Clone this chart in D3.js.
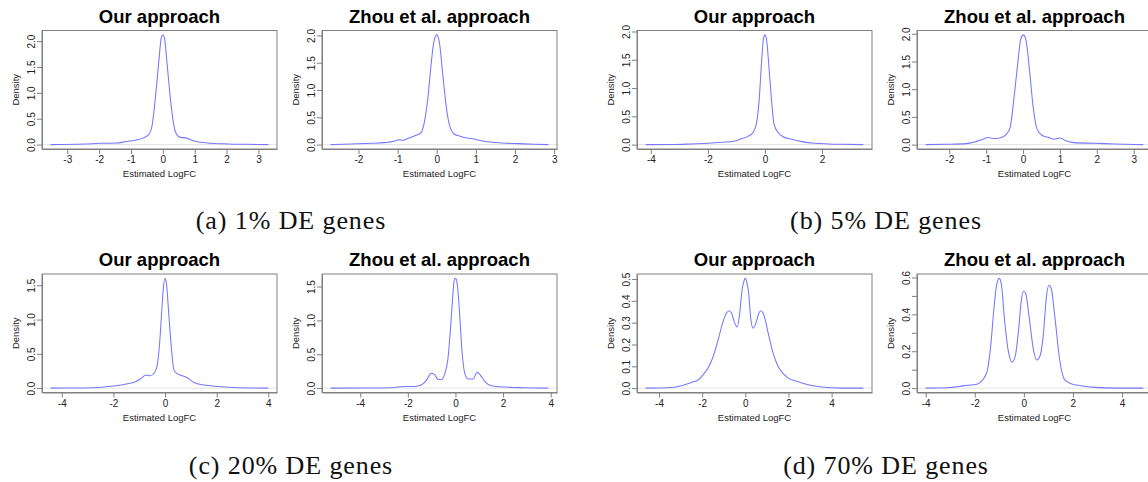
<!DOCTYPE html>
<html>
<head>
<meta charset="utf-8">
<script src="https://cdn.jsdelivr.net/npm/d3@7"></script>
<style>
  html, body { margin: 0; padding: 0; background: #fff; }
  svg { display: block; }
</style>
</head>
<body>
<svg id="fig" width="1148" height="482"></svg>
<script>
// Kernel density estimates of the estimated log fold changes (x = LogFC, y = density)
const our01X  = [-3.52,-2.46,-1.98,-1.46,-1.14,-0.82,-0.45,-0.34,-0.24,-0.13,-0.05,0,0.05,0.13,0.24,0.34,0.45,0.56,0.71,0.98,1.4,2.04,2.67,3.31];
const our01Y  = [0,0.01,0.025,0.03,0.06,0.09,0.19,0.36,0.87,1.58,2.06,2.12,2.06,1.58,0.87,0.39,0.18,0.14,0.13,0.07,0.032,0.013,0.006,0];
const zhou01X = [-2.71,-2.2,-1.68,-1.34,-1.09,-0.96,-0.87,-0.74,-0.53,-0.4,-0.32,-0.23,-0.15,-0.08,0,0.07,0.15,0.24,0.32,0.45,0.58,0.71,0.97,1.22,1.65,2.08,2.5,2.85];
const zhou01Y = [0,0.012,0.024,0.036,0.06,0.09,0.08,0.11,0.17,0.22,0.4,0.83,1.43,1.86,2.01,1.86,1.31,0.71,0.37,0.19,0.16,0.13,0.1,0.06,0.03,0.018,0.006,0];

const our05X  = [-4.18,-3.16,-2.57,-1.99,-1.52,-1.05,-0.82,-0.58,-0.41,-0.29,-0.2,-0.12,-0.05,0,0.06,0.14,0.23,0.32,0.47,0.64,0.94,1.29,1.75,2.22,2.69,3.45];
const our05Y  = [0,0.002,0.012,0.023,0.04,0.065,0.105,0.15,0.22,0.39,0.8,1.44,1.88,1.94,1.85,1.38,0.8,0.36,0.21,0.14,0.094,0.053,0.023,0.012,0.006,0];
const zhou05X = [-2.64,-2.09,-1.54,-1.31,-1.13,-0.95,-0.81,-0.63,-0.45,-0.35,-0.25,-0.15,-0.06,0.01,0.08,0.18,0.27,0.38,0.51,0.7,0.84,1.0,1.15,1.38,1.93,2.48,3.26];
const zhou05Y = [0,0.006,0.018,0.048,0.085,0.127,0.11,0.12,0.19,0.31,0.82,1.43,1.91,1.98,1.88,1.31,0.7,0.28,0.17,0.127,0.097,0.12,0.073,0.036,0.024,0.012,0];

const our20X  = [-4.43,-3.19,-2.54,-2.01,-1.5,-1.1,-0.9,-0.75,-0.58,-0.42,-0.31,-0.22,-0.14,-0.08,-0.01,0.05,0.14,0.24,0.34,0.47,0.67,0.86,1.12,1.52,2.04,2.69,4.0];
const our20Y  = [0,0.002,0.01,0.03,0.06,0.1,0.15,0.19,0.18,0.22,0.32,0.61,1.05,1.39,1.6,1.54,1.1,0.61,0.27,0.21,0.18,0.15,0.083,0.044,0.024,0.01,0];
const zhou20X = [-5.24,-3.69,-2.71,-2.29,-1.72,-1.44,-1.23,-1.02,-0.88,-0.74,-0.6,-0.46,-0.32,-0.22,-0.13,-0.05,0.01,0.08,0.18,0.27,0.39,0.53,0.74,0.92,1.09,1.23,1.51,2.07,2.43,2.92,3.9];
const zhou20Y = [0,0.001,0.005,0.02,0.025,0.045,0.11,0.22,0.2,0.13,0.124,0.2,0.42,0.82,1.27,1.59,1.62,1.52,1.07,0.57,0.22,0.134,0.134,0.235,0.17,0.1,0.035,0.015,0.01,0.005,0];

const our70X  = [-4.62,-3.58,-2.96,-2.5,-2.19,-1.96,-1.73,-1.49,-1.26,-1.03,-0.87,-0.75,-0.64,-0.49,-0.38,-0.26,-0.15,-0.08,0,0.08,0.16,0.24,0.36,0.49,0.63,0.72,0.86,1.06,1.29,1.52,1.76,1.99,2.38,2.92,3.54,4.47,5.47];
const our70Y  = [0,0.0015,0.011,0.026,0.037,0.061,0.092,0.145,0.222,0.306,0.344,0.355,0.344,0.298,0.28,0.344,0.451,0.485,0.503,0.48,0.43,0.329,0.275,0.298,0.344,0.355,0.336,0.252,0.16,0.099,0.066,0.046,0.031,0.015,0.005,0,0];
const zhou70X = [-4.0,-3.16,-2.62,-2.29,-2.02,-1.82,-1.62,-1.48,-1.35,-1.22,-1.11,-1.0,-0.91,-0.79,-0.62,-0.48,-0.35,-0.21,-0.11,-0.01,0.08,0.21,0.39,0.52,0.66,0.79,0.92,1.02,1.12,1.26,1.46,1.66,1.93,2.33,2.9,3.8,4.87];
const zhou70Y = [0,0.002,0.009,0.016,0.018,0.027,0.055,0.1,0.229,0.43,0.558,0.595,0.558,0.375,0.192,0.141,0.174,0.32,0.466,0.525,0.512,0.393,0.21,0.152,0.174,0.283,0.494,0.558,0.54,0.393,0.155,0.046,0.024,0.013,0.004,0,0];

// Axis ticks
const xTicksOur01  = [-3,-2,-1,0,1,2,3];
const xTicksZhou01 = [-2,-1,0,1,2,3];
const xTicksOur05  = [-4,-2,0,2];
const xTicksZhou05 = [-2,-1,0,1,2,3];
const xTicksWide   = [-4,-2,0,2,4];
const yTicksTop    = [0,0.5,1,1.5,2];
const yTicks20     = [0,0.5,1,1.5];
const yTicksOur70  = [0,0.1,0.2,0.3,0.4,0.5];
const yTicksZhou70 = [0,0.1,0.2,0.3,0.4,0.5,0.6];
const yLabelsZhou70 = [0,0.2,0.4,0.6];

const panelTitles = ["Our approach", "Zhou et al. approach"];
const captions = ["(a) 1% DE genes", "(b) 5% DE genes", "(c) 20% DE genes", "(d) 70% DE genes"];

// Panel layout: plot-region box of every small density plot
const colLeft = [42, 322, 637, 917];
const boxW = 235;
const rowTop = [30.5, 274];
const boxH = 118.5;

const panels = [
  {xs: our01X,  ys: our01Y,  xt: xTicksOur01,  yt: yTicksTop,   title: 0, col: 0, row: 0},
  {xs: zhou01X, ys: zhou01Y, xt: xTicksZhou01, yt: yTicksTop,   title: 1, col: 1, row: 0},
  {xs: our05X,  ys: our05Y,  xt: xTicksOur05,  yt: yTicksTop,   title: 0, col: 2, row: 0},
  {xs: zhou05X, ys: zhou05Y, xt: xTicksZhou05, yt: yTicksTop,   title: 1, col: 3, row: 0},
  {xs: our20X,  ys: our20Y,  xt: xTicksWide,   yt: yTicks20,    title: 0, col: 0, row: 1},
  {xs: zhou20X, ys: zhou20Y, xt: xTicksWide,   yt: yTicks20,    title: 1, col: 1, row: 1},
  {xs: our70X,  ys: our70Y,  xt: xTicksWide,   yt: yTicksOur70, title: 0, col: 2, row: 1},
  {xs: zhou70X, ys: zhou70Y, xt: xTicksWide,   yt: yTicksZhou70, yl: yLabelsZhou70, title: 1, col: 3, row: 1}
];

const svg = d3.select("#fig");
const sans = "'Liberation Sans', Arial, sans-serif";
const serif = "'Liberation Serif', 'Times New Roman', serif";
const boxColor = "#808080";
const lineColor = "#7676ff";

// Extend a range by 4% on each side, as the plotting device does
function padded(lo, hi) {
  const e = (hi - lo) * 0.04;
  return [lo - e, hi + e];
}
const fmt1 = d3.format(".1f");
const fmtInt = d => String(d);   // plain hyphen-minus for negative ticks

panels.forEach(p => {
  const left = colLeft[p.col], top = rowTop[p.row];
  const g = svg.append("g").attr("transform", `translate(${left},${top})`);

  const x = d3.scaleLinear().domain(padded(d3.min(p.xs), d3.max(p.xs))).range([0, boxW]);
  const y = d3.scaleLinear().domain(padded(0, d3.max(p.ys))).range([boxH, 0]);

  // zero line
  g.append("line")
    .attr("x1", 0).attr("x2", boxW)
    .attr("y1", y(0)).attr("y2", y(0))
    .attr("stroke", "#e2e2e2").attr("stroke-width", 1);

  // density curve
  const pts = p.xs.map((v, i) => [v, p.ys[i]]);
  const line = d3.line().x(d => x(d[0])).y(d => y(d[1])).curve(d3.curveMonotoneX);
  g.append("path").datum(pts)
    .attr("d", line)
    .attr("fill", "none")
    .attr("stroke", lineColor)
    .attr("stroke-width", 1.05);

  // x axis
  const xa = g.append("g").attr("transform", `translate(0,${boxH})`)
    .call(d3.axisBottom(x).tickValues(p.xt).tickSize(5).tickSizeOuter(0).tickFormat(fmtInt));
  xa.select(".domain").attr("stroke", boxColor);
  xa.selectAll(".tick line").attr("stroke", boxColor);
  xa.selectAll(".tick text")
    .attr("y", 14).attr("dy", 0)
    .attr("fill", "#222")
    .style("font-family", sans).style("font-size", "10px");

  // y axis
  const yLab = p.yl || p.yt;
  const ya = g.append("g")
    .call(d3.axisLeft(y).tickValues(p.yt).tickSize(5).tickSizeOuter(0)
      .tickFormat(d => yLab.some(v => Math.abs(v - d) < 1e-9) ? fmt1(d) : ""));
  ya.select(".domain").attr("stroke", boxColor);
  ya.selectAll(".tick line").attr("stroke", boxColor);
  ya.selectAll(".tick text")
    .attr("transform", "rotate(-90)")
    .attr("x", 0).attr("y", -7).attr("dy", 0)
    .attr("text-anchor", "middle")
    .attr("fill", "#222")
    .style("font-family", sans).style("font-size", "10px");

  // box around plot region
  g.append("rect")
    .attr("x", 0).attr("y", 0).attr("width", boxW).attr("height", boxH)
    .attr("fill", "none").attr("stroke", boxColor).attr("stroke-width", 1);

  // axis titles
  g.append("text")
    .attr("x", boxW / 2).attr("y", boxH + 28)
    .attr("text-anchor", "middle")
    .attr("fill", "#222")
    .style("font-family", sans).style("font-size", "9.5px")
    .text("Estimated LogFC");
  g.append("text")
    .attr("transform", `translate(-23,${boxH / 2}) rotate(-90)`)
    .attr("text-anchor", "middle")
    .attr("fill", "#222")
    .style("font-family", sans).style("font-size", "9.5px")
    .text("Density");

  // panel title
  g.append("text")
    .attr("x", boxW / 2).attr("y", -8)
    .attr("text-anchor", "middle")
    .attr("fill", "#000")
    .style("font-family", sans).style("font-size", "18.5px").style("font-weight", "bold")
    .text(panelTitles[p.title]);
});

// sub-figure captions
const capPos = [[291, 229], [886, 229], [291, 474], [886, 474]];
captions.forEach((c, i) => {
  svg.append("text")
    .attr("x", capPos[i][0]).attr("y", capPos[i][1])
    .attr("text-anchor", "middle")
    .attr("fill", "#111")
    .style("font-family", serif).style("font-size", "26px")
    .style("letter-spacing", "0.9px")
    .text(c);
});
</script>
</body>
</html>
